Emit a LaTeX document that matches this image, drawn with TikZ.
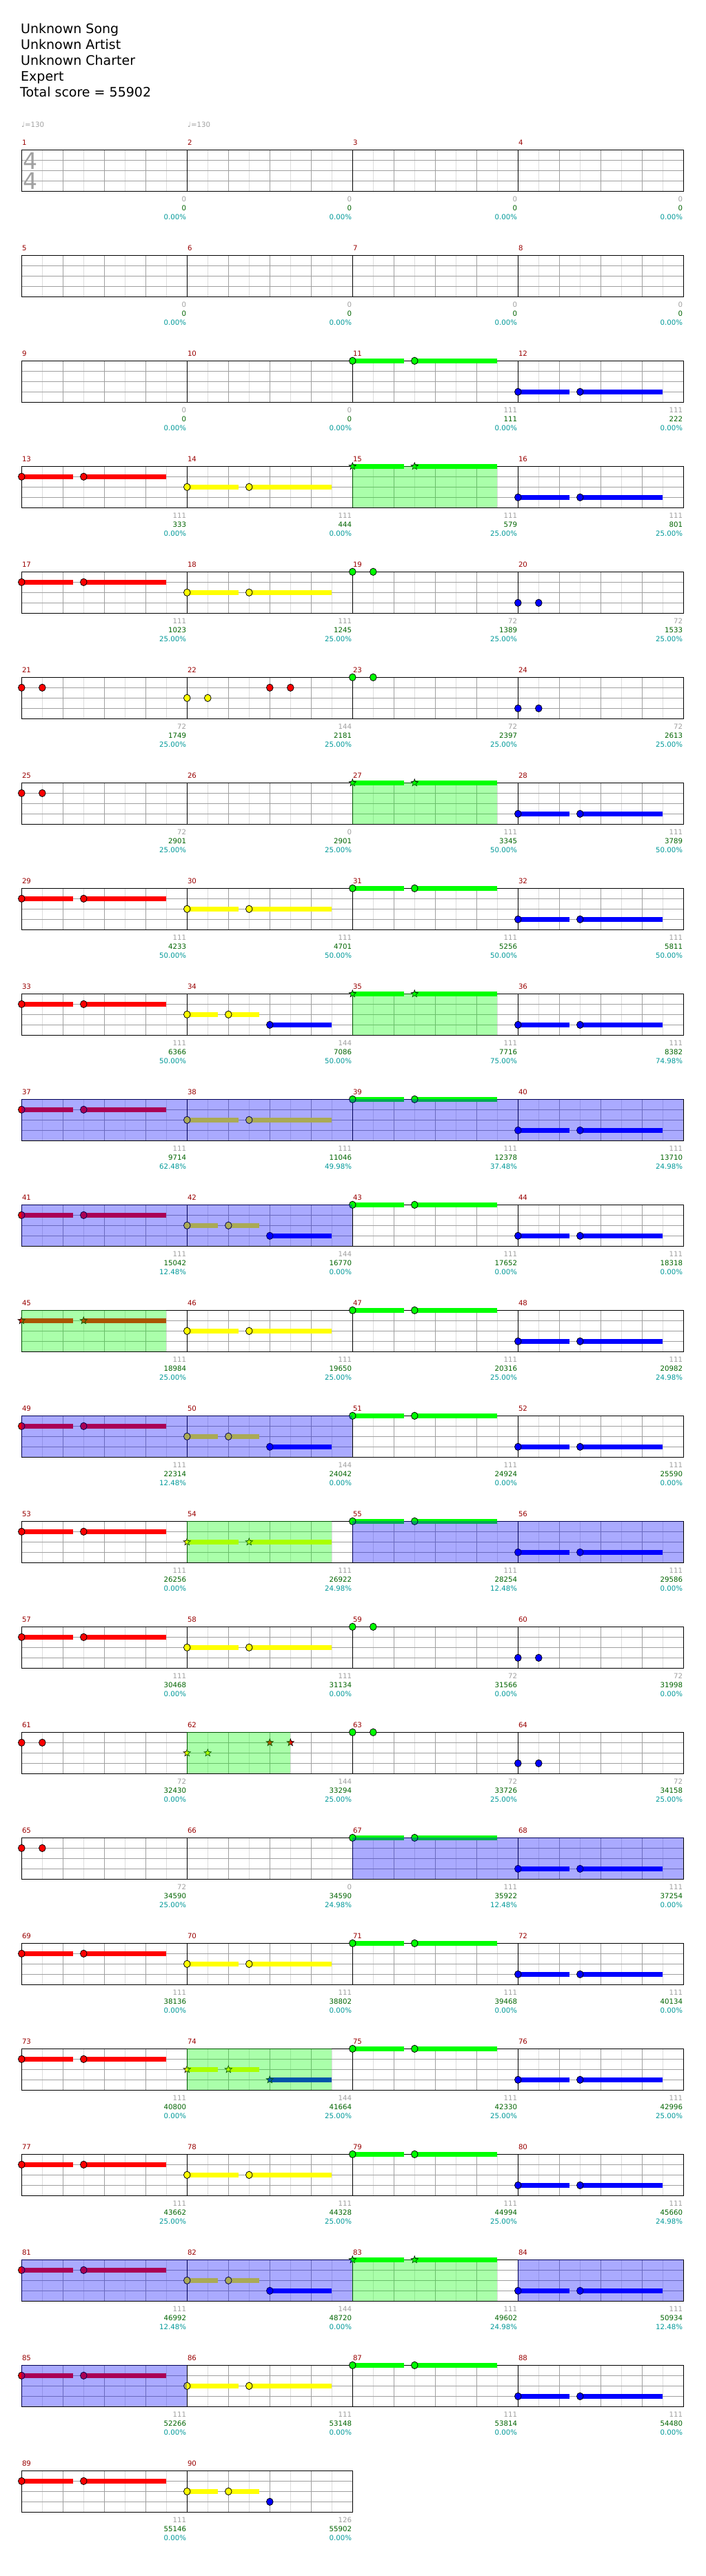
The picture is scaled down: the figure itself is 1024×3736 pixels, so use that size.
\documentclass[tikz,border=0pt]{standalone}
\usepackage{fontspec}
\setmainfont{DejaVu Sans}
\usetikzlibrary{shapes.geometric}
\definecolor{gG}{RGB}{0,255,0}
\definecolor{gR}{RGB}{255,0,0}
\definecolor{gY}{RGB}{255,255,0}
\definecolor{gB}{RGB}{0,0,255}
\definecolor{lightln}{RGB}{221,221,221}
\definecolor{midln}{RGB}{160,160,160}
\definecolor{mnum}{RGB}{153,0,0}
\definecolor{sgray}{RGB}{160,160,160}
\definecolor{sgreen}{RGB}{0,100,0}
\definecolor{steal}{RGB}{0,153,153}
\tikzset{
  stxt/.style={font=\fontsize{10.2}{12}\selectfont, inner sep=0pt},
  htxt/.style={font=\fontsize{19}{23}\selectfont, inner sep=0pt, anchor=base west},
  starnote/.style={star, star points=5, star point ratio=2.4, minimum size=11pt, inner sep=0pt, draw=black, line width=0.6pt},
  notec/.style={draw=black, line width=0.8pt},
}
\newcommand\SetM[1]{%
  \pgfmathtruncatemacro\mr{int(((#1)-1)/4)}%
  \pgfmathtruncatemacro\mc{(#1)-1-4*\mr}%
  \pgfmathsetmacro\mx{31.3+240*\mc}%
  \pgfmathsetmacro\my{217.3+153*\mr}}
% circle note: measure, offset, lane, colour, sustain length
\newcommand\Nt[5]{\SetM{#1}%
  \pgfmathsetmacro\nx{\mx+#2}\pgfmathsetmacro\ny{\my+15*#3}%
  \ifdim #5pt>0pt \fill[#4] (\nx,\ny-3.5) rectangle (\nx+#5,\ny+3.5);\fi
  \draw[notec, fill=#4] (\nx,\ny) ellipse [x radius=4.8, y radius=5.2];}
% star note
\newcommand\St[5]{\SetM{#1}%
  \pgfmathsetmacro\nx{\mx+#2}\pgfmathsetmacro\ny{\my+15*#3}%
  \ifdim #5pt>0pt \fill[#4] (\nx,\ny-3.5) rectangle (\nx+#5,\ny+3.5);\fi
  \node[starnote, fill=#4] at (\nx,\ny) {};}
\newcommand\PatP[3]{\Nt{#1}{0}{#2}{#3}{75}\Nt{#1}{90}{#2}{#3}{120}}
\newcommand\PatPs[3]{\St{#1}{0}{#2}{#3}{75}\St{#1}{90}{#2}{#3}{120}}
\newcommand\PatD[4]{\Nt{#1}{#2}{#3}{#4}{0}\Nt{#1}{#2+30}{#3}{#4}{0}}
\newcommand\PatDs[4]{\St{#1}{#2}{#3}{#4}{0}\St{#1}{#2+30}{#3}{#4}{0}}
\newcommand\PatQ[1]{\Nt{#1}{0}{2}{gY}{45}\Nt{#1}{60}{2}{gY}{45}\Nt{#1}{120}{3}{gB}{90}}
\newcommand\PatQs[1]{\St{#1}{0}{2}{gY}{45}\St{#1}{60}{2}{gY}{45}\St{#1}{120}{3}{gB}{90}}
% overlays
\newcommand\SPr[2]{\SetM{#1}\fill[gG, fill opacity=0.3333] (\mx,\my) rectangle (\mx+#2,\my+60);}
\newcommand\Act[2]{\SetM{#1}\fill[gB, fill opacity=0.3333] (\mx,\my) rectangle (\mx+#2,\my+60);}
% texts
\newcommand\Tx[4]{\SetM{#1}%
  \node[stxt, text=sgray, anchor=base east] (a#1) at (\mx+239,\my+75.4) {#2};
  \node[stxt, text=sgreen, anchor=base east] (b#1) at (\mx+239,\my+88) {#3};
  \node[stxt, text=steal, anchor=base east] (c#1) at (\mx+239,\my+101.4) {#4};
  \node[stxt, text=mnum, anchor=base west] (n#1) at (\mx+0.5,\my-7) {#1};}
% grid: row, number of measures
\newcommand\Grid[2]{%
  \pgfmathsetmacro\gy{217.3+153*#1}%
  \pgfmathsetmacro\gw{240*#2}%
  \foreach \mm in {1,...,#2}{%
    \foreach \b in {30,90,150,210}{\draw[lightln, line width=1pt] ({31.3+240*(\mm-1)+\b},\gy) -- ++(0,60);}
    \foreach \b in {60,120,180}{\draw[midln, line width=1pt] ({31.3+240*(\mm-1)+\b},\gy) -- ++(0,60);}
  }
  \foreach \h in {15,30,45}{\draw[midln, line width=1pt] (31.3,\gy+\h) -- ++(\gw,0);}
  \ifnum#2>1
  \foreach \mm in {2,...,#2}{\draw[black, line width=1pt] ({31.3+240*(\mm-1)},\gy) -- ++(0,60);}
  \fi
  \draw[black, line width=1.5pt] (31.3,\gy) rectangle (31.3+\gw,\gy+60);}
\begin{document}
\begin{tikzpicture}[x=1pt, y=-1pt]
\fill[white] (0,0) rectangle (1024,3736);
\useasboundingbox (0,0) rectangle (1024,3736);
% header
\node[htxt] (h1) at (30,49) {Unknown Song};
\node[htxt] (h2) at (30,72) {Unknown Artist};
\node[htxt] (h3) at (30,95) {Unknown Charter};
\node[htxt] (h4) at (30,118) {Expert};
\node[htxt] (h5) at (29,141) {Total score = 55902};
\node[stxt, text=sgray, anchor=base west] (tp1) at (31,184) {♩=130};
\node[stxt, text=sgray, anchor=base west] (tp2) at (272,184) {♩=130};
% grids
\foreach \r in {0,...,21}{\Grid{\r}{4}}
\Grid{22}{2}
\node[font=\fontsize{33}{33}\selectfont, text=sgray, inner sep=0pt, anchor=base] (ts1) at (44,245) {4};
\node[font=\fontsize{33}{33}\selectfont, text=sgray, inner sep=0pt, anchor=base] (ts2) at (44,274) {4};
% notes
\PatP{11}{0}{gG}\PatP{12}{3}{gB}
\PatP{13}{1}{gR}\PatP{14}{2}{gY}\PatPs{15}{0}{gG}\PatP{16}{3}{gB}
\PatP{17}{1}{gR}\PatP{18}{2}{gY}\PatD{19}{0}{0}{gG}\PatD{20}{0}{3}{gB}
\PatD{21}{0}{1}{gR}\PatD{22}{0}{2}{gY}\PatD{22}{120}{1}{gR}\PatD{23}{0}{0}{gG}\PatD{24}{0}{3}{gB}
\PatD{25}{0}{1}{gR}\PatPs{27}{0}{gG}\PatP{28}{3}{gB}
\PatP{29}{1}{gR}\PatP{30}{2}{gY}\PatP{31}{0}{gG}\PatP{32}{3}{gB}
\PatP{33}{1}{gR}\PatQ{34}\PatPs{35}{0}{gG}\PatP{36}{3}{gB}
\PatP{37}{1}{gR}\PatP{38}{2}{gY}\PatP{39}{0}{gG}\PatP{40}{3}{gB}
\PatP{41}{1}{gR}\PatQ{42}\PatP{43}{0}{gG}\PatP{44}{3}{gB}
\PatPs{45}{1}{gR}\PatP{46}{2}{gY}\PatP{47}{0}{gG}\PatP{48}{3}{gB}
\PatP{49}{1}{gR}\PatQ{50}\PatP{51}{0}{gG}\PatP{52}{3}{gB}
\PatP{53}{1}{gR}\PatPs{54}{2}{gY}\PatP{55}{0}{gG}\PatP{56}{3}{gB}
\PatP{57}{1}{gR}\PatP{58}{2}{gY}\PatD{59}{0}{0}{gG}\PatD{60}{0}{3}{gB}
\PatD{61}{0}{1}{gR}\PatDs{62}{0}{2}{gY}\PatDs{62}{120}{1}{gR}\PatD{63}{0}{0}{gG}\PatD{64}{0}{3}{gB}
\PatD{65}{0}{1}{gR}\PatP{67}{0}{gG}\PatP{68}{3}{gB}
\PatP{69}{1}{gR}\PatP{70}{2}{gY}\PatP{71}{0}{gG}\PatP{72}{3}{gB}
\PatP{73}{1}{gR}\PatQs{74}\PatP{75}{0}{gG}\PatP{76}{3}{gB}
\PatP{77}{1}{gR}\PatP{78}{2}{gY}\PatP{79}{0}{gG}\PatP{80}{3}{gB}
\PatP{81}{1}{gR}\PatQ{82}\PatPs{83}{0}{gG}\PatP{84}{3}{gB}
\PatP{85}{1}{gR}\PatP{86}{2}{gY}\PatP{87}{0}{gG}\PatP{88}{3}{gB}
\PatP{89}{1}{gR}\Nt{90}{0}{2}{gY}{45}\Nt{90}{60}{2}{gY}{45}\Nt{90}{120}{3}{gB}{0}
% star power phrases
\SPr{15}{210}\SPr{27}{210}\SPr{35}{210}\SPr{45}{210}\SPr{54}{210}\SPr{62}{150}\SPr{74}{210}\SPr{83}{210}
% activations
\Act{37}{960}\Act{41}{480}\Act{49}{480}\Act{55}{480}\Act{67}{480}\Act{81}{480}\Act{84}{240}\Act{85}{240}
% texts
\Tx{1}{0}{0}{0.00\%}\Tx{2}{0}{0}{0.00\%}\Tx{3}{0}{0}{0.00\%}\Tx{4}{0}{0}{0.00\%}
\Tx{5}{0}{0}{0.00\%}\Tx{6}{0}{0}{0.00\%}\Tx{7}{0}{0}{0.00\%}\Tx{8}{0}{0}{0.00\%}
\Tx{9}{0}{0}{0.00\%}\Tx{10}{0}{0}{0.00\%}\Tx{11}{111}{111}{0.00\%}\Tx{12}{111}{222}{0.00\%}
\Tx{13}{111}{333}{0.00\%}\Tx{14}{111}{444}{0.00\%}\Tx{15}{111}{579}{25.00\%}\Tx{16}{111}{801}{25.00\%}
\Tx{17}{111}{1023}{25.00\%}\Tx{18}{111}{1245}{25.00\%}\Tx{19}{72}{1389}{25.00\%}\Tx{20}{72}{1533}{25.00\%}
\Tx{21}{72}{1749}{25.00\%}\Tx{22}{144}{2181}{25.00\%}\Tx{23}{72}{2397}{25.00\%}\Tx{24}{72}{2613}{25.00\%}
\Tx{25}{72}{2901}{25.00\%}\Tx{26}{0}{2901}{25.00\%}\Tx{27}{111}{3345}{50.00\%}\Tx{28}{111}{3789}{50.00\%}
\Tx{29}{111}{4233}{50.00\%}\Tx{30}{111}{4701}{50.00\%}\Tx{31}{111}{5256}{50.00\%}\Tx{32}{111}{5811}{50.00\%}
\Tx{33}{111}{6366}{50.00\%}\Tx{34}{144}{7086}{50.00\%}\Tx{35}{111}{7716}{75.00\%}\Tx{36}{111}{8382}{74.98\%}
\Tx{37}{111}{9714}{62.48\%}\Tx{38}{111}{11046}{49.98\%}\Tx{39}{111}{12378}{37.48\%}\Tx{40}{111}{13710}{24.98\%}
\Tx{41}{111}{15042}{12.48\%}\Tx{42}{144}{16770}{0.00\%}\Tx{43}{111}{17652}{0.00\%}\Tx{44}{111}{18318}{0.00\%}
\Tx{45}{111}{18984}{25.00\%}\Tx{46}{111}{19650}{25.00\%}\Tx{47}{111}{20316}{25.00\%}\Tx{48}{111}{20982}{24.98\%}
\Tx{49}{111}{22314}{12.48\%}\Tx{50}{144}{24042}{0.00\%}\Tx{51}{111}{24924}{0.00\%}\Tx{52}{111}{25590}{0.00\%}
\Tx{53}{111}{26256}{0.00\%}\Tx{54}{111}{26922}{24.98\%}\Tx{55}{111}{28254}{12.48\%}\Tx{56}{111}{29586}{0.00\%}
\Tx{57}{111}{30468}{0.00\%}\Tx{58}{111}{31134}{0.00\%}\Tx{59}{72}{31566}{0.00\%}\Tx{60}{72}{31998}{0.00\%}
\Tx{61}{72}{32430}{0.00\%}\Tx{62}{144}{33294}{25.00\%}\Tx{63}{72}{33726}{25.00\%}\Tx{64}{72}{34158}{25.00\%}
\Tx{65}{72}{34590}{25.00\%}\Tx{66}{0}{34590}{24.98\%}\Tx{67}{111}{35922}{12.48\%}\Tx{68}{111}{37254}{0.00\%}
\Tx{69}{111}{38136}{0.00\%}\Tx{70}{111}{38802}{0.00\%}\Tx{71}{111}{39468}{0.00\%}\Tx{72}{111}{40134}{0.00\%}
\Tx{73}{111}{40800}{0.00\%}\Tx{74}{144}{41664}{25.00\%}\Tx{75}{111}{42330}{25.00\%}\Tx{76}{111}{42996}{25.00\%}
\Tx{77}{111}{43662}{25.00\%}\Tx{78}{111}{44328}{25.00\%}\Tx{79}{111}{44994}{25.00\%}\Tx{80}{111}{45660}{24.98\%}
\Tx{81}{111}{46992}{12.48\%}\Tx{82}{144}{48720}{0.00\%}\Tx{83}{111}{49602}{24.98\%}\Tx{84}{111}{50934}{12.48\%}
\Tx{85}{111}{52266}{0.00\%}\Tx{86}{111}{53148}{0.00\%}\Tx{87}{111}{53814}{0.00\%}\Tx{88}{111}{54480}{0.00\%}
\Tx{89}{111}{55146}{0.00\%}\Tx{90}{126}{55902}{0.00\%}
\end{tikzpicture}
\end{document}
